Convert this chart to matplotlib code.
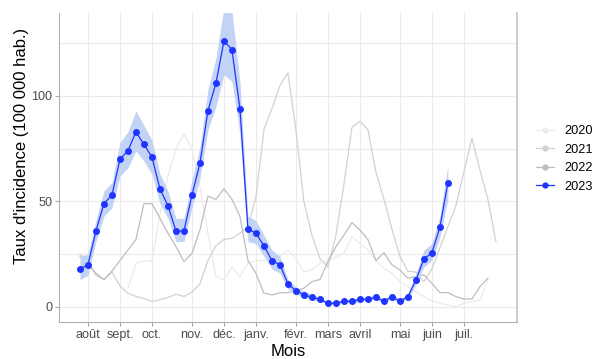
import numpy as np
import matplotlib
matplotlib.use("Agg")
import matplotlib.pyplot as plt
from matplotlib.lines import Line2D

plt.rcParams['font.family'] = ['Liberation Sans', 'DejaVu Sans']

# semaines depuis début août (0 = début août)
mois_labels = ["août", "sept.", "oct.", "nov.", "déc.", "janv.", "févr.", "mars", "avril", "mai", "juin", "juil."]
mois_semaines = [0, 4, 8, 13, 17, 21, 26, 30, 34, 39, 43, 47]

semaines_2020 = np.arange(5, 51)
taux_2020 = [9, 20.7, 22, 21.5, 44, 62, 75, 82, 75, 57, 35, 14.4, 12.8, 19, 14.4, 20.7,
             22, 22, 22.5, 24, 27, 23, 16.7, 17.5, 20.7, 22.3, 23.8, 25.4, 33.3, 30, 27, 22,
             18.3, 16, 12, 9.6, 7.3, 4.9, 2.8, 1.8, 0.9, 0.1, 1.8, 2.5, 3.3, 12.8]

semaines_2021 = np.arange(-1, 52)
taux_2021 = [25, 22, 15, 13, 16.5, 10, 6.5, 5, 4, 2.5, 3.5, 4.5, 6, 5, 7, 11, 22, 29, 32,
             32.5, 35, 38, 52, 84, 94, 105, 111, 84, 50, 34, 23, 19, 34, 58, 85, 88, 84, 64,
             51, 37, 24, 17, 16.5, 12, 18, 28, 38, 48, 64, 80, 65, 51, 31]

semaines_2022 = np.arange(-1, 51)
taux_2022 = [24, 20, 16, 13, 17, 22, 27, 32, 49, 49, 42, 35, 28.6, 21.5, 25.4, 36.5, 52.5,
             51, 56, 51, 43, 22, 16, 6.6, 5.7, 6.7, 6.8, 7.7, 8.9, 12, 13, 21.5, 28.6, 34,
             40, 36.5, 32, 22, 25.7, 20, 17.5, 13.6, 14.4, 15.2, 11.2, 6.8, 6.8, 4.9, 3.8,
             3.8, 9.6, 13.6]

semaines_2023 = np.arange(-1, 46)
taux_2023 = [18, 20, 36, 49, 53, 70, 74, 83, 77, 71, 56, 48, 36, 36, 53, 68, 93, 106, 126,
             122, 94, 37, 35, 29, 22, 20, 11, 7.7, 5.8, 4.6, 3.6, 1.8, 1.8, 2.7, 2.7, 3.6,
             3.6, 4.6, 2.7, 4.9, 2.7, 4.9, 12.8, 22.7, 25.7, 37.8, 58.9]
bas_2023 = [13, 15, 31, 43, 47, 62, 66, 74, 69, 63, 49, 42, 31, 31, 47, 61, 84, 95, 110,
            107, 82, 31, 30, 24, 18, 16, 8.5, 6, 4.5, 3.5, 2.8, 1.2, 1.2, 2, 2, 2.8, 2.8,
            3.6, 2, 3.8, 2, 3.8, 10.5, 19, 22, 33, 51]
haut_2023 = [24, 25, 41, 55, 59, 78, 83, 93, 86, 79, 63, 55, 42, 42, 60, 76, 103, 118, 142,
             140, 107, 43, 41, 34, 27, 24, 13, 9.5, 7.5, 6, 4.6, 2.5, 2.5, 3.6, 3.6, 4.6, 4.8,
             6, 3.6, 6.2, 3.6, 6.2, 15.5, 27, 30, 43, 67]

couleurs = {"2020": "#ebebeb", "2021": "#d2d2d2", "2022": "#bdbdbd", "2023": "#1f35ff"}

fig = plt.figure(figsize=(5.93, 3.59), dpi=100)
ax = fig.add_axes([0.1003, 0.1017, 0.771, 0.862])

ax.plot(semaines_2020, taux_2020, color=couleurs["2020"], lw=0.9, zorder=2)
ax.plot(semaines_2021, taux_2021, color=couleurs["2021"], lw=0.9, zorder=2)
ax.plot(semaines_2022, taux_2022, color=couleurs["2022"], lw=0.9, zorder=2)
ax.fill_between(semaines_2023, bas_2023, haut_2023, color="#c3d3f6", lw=0, zorder=3)
ax.plot(semaines_2023, taux_2023, color=couleurs["2023"], lw=0.9, marker="o",
        markersize=4, zorder=4)

ax.set_xlim(-3.56, 53.6)
ax.set_ylim(-7.35, 139.3)
ax.set_xticks(mois_semaines)
ax.set_xticklabels(mois_labels)
ax.set_yticks([0, 50, 100])
ax.set_yticks([25, 75, 125], minor=True)
ax.grid(True, which="both", color="#ebebeb", lw=0.8)
ax.set_axisbelow(True)
ax.tick_params(axis="both", which="major", colors="#aaaaaa", length=3, width=0.8,
               labelcolor="#4d4d4d", labelsize=9.1, pad=2)
ax.tick_params(axis="both", which="minor", length=0)

for cote in ["left", "bottom"]:
    ax.spines[cote].set_color("#b0b0b0")
    ax.spines[cote].set_linewidth(0.8)
ax.spines["right"].set_color("#cccccc")
ax.spines["right"].set_linewidth(1.4)
ax.spines["top"].set_visible(False)

ax.set_xlabel("Mois", fontsize=12)
ax.set_ylabel("Taux d'incidence (100 000 hab.)", fontsize=12)
ax.xaxis.set_label_coords(0.5, -0.069)
ax.yaxis.set_label_coords(-0.066, 0.569)

poignees = [Line2D([], [], color=couleurs[a], lw=0.9, marker="o", markersize=3.5)
            for a in ["2020", "2021", "2022", "2023"]]
fig.legend(poignees, ["2020", "2021", "2022", "2023"], loc="center left",
           bbox_to_anchor=(0.895, 1 - 159 / 359), frameon=False, fontsize=9.2,
           handlelength=1.4, handletextpad=0.8, labelspacing=0.5, borderaxespad=0)

fig.savefig("out.png", dpi=100)
